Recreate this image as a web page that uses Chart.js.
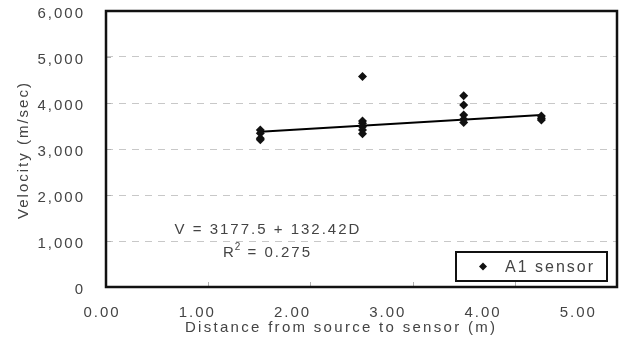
<!DOCTYPE html>
<html>
<head>
<meta charset="utf-8">
<script src="https://cdn.jsdelivr.net/npm/chart.js@4/dist/chart.umd.min.js"></script>
<style>
  html, body { margin: 0; padding: 0; background: #ffffff; }
  #wrap { width: 642px; height: 347px; }
</style>
</head>
<body>
<div id="wrap"><canvas id="c" width="642" height="347"></canvas></div>
<script>
// Measured wave velocity at each source-to-sensor distance
const distance = [1.51, 1.51, 1.51, 1.51,
                  2.51, 2.51, 2.51, 2.51, 2.51, 2.51,
                  3.50, 3.50, 3.50, 3.50, 3.50,
                  4.26, 4.26, 4.26];
const velocity = [3415, 3340, 3235, 3200,
                  4575, 3610, 3560, 3485, 3415, 3330,
                  4160, 3955, 3740, 3645, 3575,
                  3720, 3670, 3630];
const seriesName = 'A1 sensor';

// Linear fit V = a + b*D over the measured distance range
const fitIntercept = 3177.5;
const fitSlope = 132.42;
const fitRange = [1.51, 4.26];
const fitRSquared = '0.275';

const xTickValues = [0, 1, 2, 3, 4, 5];
const yTickValues = [0, 1000, 2000, 3000, 4000, 5000, 6000];

const FONT = '"Liberation Sans", Arial, sans-serif';
const TEXT = '#444444';

const scatterPoints = distance.map((d, i) => ({ x: d, y: velocity[i] }));
const fitPoints = fitRange.map(d => ({ x: d, y: fitIntercept + fitSlope * d }));

const frameAndLabels = {
  id: 'frameAndLabels',
  beforeDraw(chart) {
    chart.ctx.letterSpacing = '2px';
  },
  beforeDatasetsDraw(chart) {
    const { ctx, chartArea: a, scales: { x, y } } = chart;
    ctx.save();
    // inward tick marks
    ctx.strokeStyle = '#b0b0b0';
    ctx.lineWidth = 1;
    ctx.beginPath();
    yTickValues.forEach(v => {
      const py = Math.round(y.getPixelForValue(v)) + 0.5;
      ctx.moveTo(a.left, py); ctx.lineTo(a.left + 5, py);
    });
    xTickValues.forEach(v => {
      const px = Math.round(x.getPixelForValue(v)) + 0.5;
      ctx.moveTo(px, a.bottom); ctx.lineTo(px, a.bottom - 5);
    });
    ctx.stroke();
    // plot frame
    ctx.strokeStyle = '#111111';
    ctx.lineWidth = 2.5;
    ctx.strokeRect(a.left, a.top, a.right - a.left, a.bottom - a.top);
    ctx.restore();
  },
  afterDraw(chart) {
    const { ctx, chartArea: a, scales: { x, y } } = chart;
    ctx.save();
    ctx.letterSpacing = '2px';
    ctx.fillStyle = TEXT;
    ctx.textBaseline = 'middle';
    ctx.textAlign = 'center';
    ctx.font = '15px ' + FONT;

    // x tick labels
    xTickValues.forEach(v => {
      const px = x.getPixelForValue(v);
      const lx = a.left - 5 + (px - a.left) * 0.932;
      ctx.fillText(v.toFixed(2), lx + 1, a.bottom + 26);
    });
    // x title
    const x0 = a.left - 5, x5 = a.left - 5 + (x.getPixelForValue(5) - a.left) * 0.932;
    ctx.letterSpacing = '2.3px';
    ctx.fillText('Distance from source to sensor (m)', (x0 + x5) / 2 + 2, a.bottom + 41);
    ctx.letterSpacing = '2px';

    // y title
    ctx.save();
    ctx.translate(24, (a.top + a.bottom) / 2 + 1);
    ctx.rotate(-Math.PI / 2);
    ctx.fillText('Velocity (m/sec)', 0, 0);
    ctx.restore();

    // regression equation
    const eqX = x.getPixelForValue(1.575);
    ctx.fillText('V = ' + fitIntercept + ' + ' + fitSlope + 'D', eqX + 1, y.getPixelForValue(1240));
    const ry = y.getPixelForValue(740);
    const wR = ctx.measureText('R').width;
    const rest = ' = ' + fitRSquared;
    const wRest = ctx.measureText(rest).width;
    ctx.font = '10px ' + FONT;
    ctx.letterSpacing = '1px';
    const w2 = ctx.measureText('2').width;
    const total = wR + w2 + wRest;
    let cx = x.getPixelForValue(1.585) - total / 2;
    ctx.textAlign = 'left';
    ctx.font = '15px ' + FONT;
    ctx.letterSpacing = '2px';
    ctx.fillText('R', cx, ry);
    cx += wR - 1;
    ctx.font = '10px ' + FONT;
    ctx.letterSpacing = '1px';
    ctx.fillText('2', cx, ry - 6);
    cx += w2;
    ctx.font = '15px ' + FONT;
    ctx.letterSpacing = '2px';
    ctx.fillText(rest, cx, ry);

    // legend box
    const lx0 = a.right - 161, lx1 = a.right - 10, ly0 = a.bottom - 35, ly1 = a.bottom - 6;
    ctx.fillStyle = '#ffffff';
    ctx.fillRect(lx0, ly0, lx1 - lx0, ly1 - ly0);
    ctx.strokeStyle = '#111111';
    ctx.lineWidth = 2;
    ctx.strokeRect(lx0, ly0, lx1 - lx0, ly1 - ly0);
    const my = (ly0 + ly1) / 2;
    ctx.fillStyle = '#111111';
    ctx.beginPath();
    ctx.moveTo(lx0 + 27, my - 4);
    ctx.lineTo(lx0 + 31, my);
    ctx.lineTo(lx0 + 27, my + 4);
    ctx.lineTo(lx0 + 23, my);
    ctx.closePath();
    ctx.fill();
    ctx.fillStyle = TEXT;
    ctx.font = '16px ' + FONT;
    ctx.textAlign = 'left';
    ctx.fillText(seriesName, lx0 + 49, my + 1);
    ctx.restore();
  }
};

new Chart(document.getElementById('c'), {
  type: 'scatter',
  data: {
    datasets: [
      {
        label: seriesName,
        data: scatterPoints,
        pointStyle: 'rectRot',
        pointRadius: 4.5,
        backgroundColor: '#111111',
        borderColor: '#111111',
        borderWidth: 0,
        showLine: false
      },
      {
        label: 'fit',
        data: fitPoints,
        showLine: true,
        borderColor: '#000000',
        borderWidth: 2,
        pointRadius: 0,
        fill: false
      }
    ]
  },
  options: {
    responsive: false,
    animation: false,
    devicePixelRatio: 1,
    layout: { padding: { left: 0, right: 25, top: 11, bottom: 0 } },
    plugins: { legend: { display: false }, tooltip: { enabled: false } },
    scales: {
      x: {
        type: 'linear',
        min: 0,
        max: 5,
        ticks: { display: false },
        grid: { display: false },
        border: { display: false },
        afterFit(s) { s.height = 60; s.paddingLeft = 0; s.paddingRight = 0; }
      },
      y: {
        type: 'linear',
        min: 0,
        max: 6000,
        afterBuildTicks(s) { s.ticks = yTickValues.map(v => ({ value: v })); },
        ticks: {
          padding: 21,
          labelOffset: 2.5,
          color: TEXT,
          font: { family: FONT, size: 15 },
          callback: v => v.toLocaleString('en-US')
        },
        grid: { color: '#c8c8c8', drawTicks: false, tickLength: 0, lineWidth: 1 },
        border: { display: false, dash: [7, 6] },
        afterFit(s) { s.width = 106; s.paddingTop = 0; s.paddingBottom = 0; }
      }
    }
  },
  plugins: [frameAndLabels]
});
</script>
</body>
</html>
